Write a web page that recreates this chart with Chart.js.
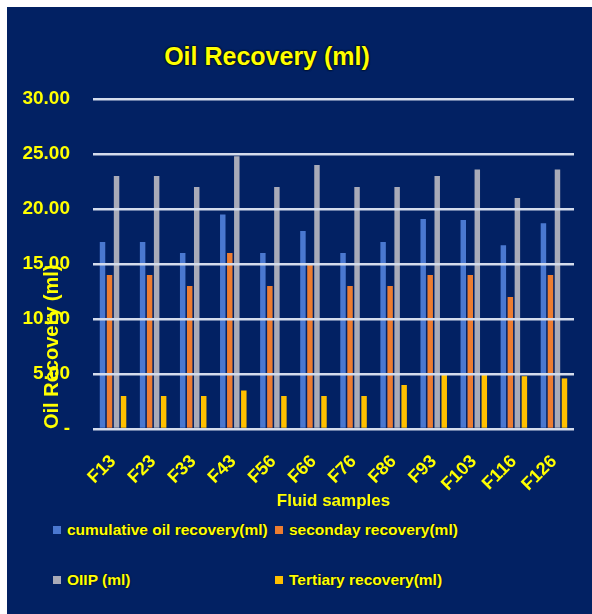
<!DOCTYPE html>
<html>
<head>
<meta charset="utf-8">
<script src="https://cdn.jsdelivr.net/npm/chart.js@4.4.1/dist/chart.umd.min.js"></script>
<style>
  body { margin: 0; background: #fff; }
  #panel { position: absolute; left: 7px; top: 7px; width: 585px; height: 607px; background: #022163; overflow: hidden; }
  #wrap { position: absolute; left: 0; top: 0; width: 585px; height: 510px; }
  #title { position: absolute; left: 0; top: 35px; width: 520px; text-align: center; line-height: 30px;
           font: bold 25px "Liberation Sans", Arial, sans-serif; color: #ffff00; text-shadow: 0 0 2px #000, 0 0 2px #000; }
  #legend { position: absolute; left: 46px; top: 513px; display: grid; grid-template-columns: 222px 222px; row-gap: 30px;
            font: bold 15.5px "Liberation Sans", Arial, sans-serif; color: #ffff00; text-shadow: 0 0 2px #000; }
  #legend div { display: flex; align-items: center; height: 20px; white-space: nowrap; }
  #legend span.box { display: inline-block; width: 8px; height: 8px; margin-right: 6px; }
</style>
</head>
<body>
<div id="panel">
  <div id="title">Oil Recovery (ml)</div>
  <div id="wrap"><canvas id="chart"></canvas></div>
  <div id="legend"></div>
</div>
<script>
// Data
const samples = ['F13', 'F23', 'F33', 'F43', 'F56', 'F66', 'F76', 'F86', 'F93', 'F103', 'F116', 'F126'];
const cumulative = [17, 17, 16, 19.5, 16, 18, 16, 17, 19.1, 19, 16.7, 18.7];
const secondary = [14, 14, 13, 16, 13, 15, 13, 13, 14, 14, 12, 14];
const oiip = [23, 23, 22, 24.8, 22, 24, 22, 22, 23, 23.6, 21, 23.6];
const tertiary = [3, 3, 3, 3.5, 3, 3, 3, 4, 5, 5, 4.8, 4.6];
const yTickLabels = ['-', '5.00', '10.00', '15.00', '20.00', '25.00', '30.00'];

const yellow = '#ffff00';
const fontFamily = '"Liberation Sans", Arial, sans-serif';

const ctx = document.getElementById('chart').getContext('2d');
const chart = new Chart(ctx, {
    type: 'bar',
    data: {
        labels: samples,
        datasets: [
            { label: 'cumulative oil recovery(ml)', data: cumulative, backgroundColor: '#4a78d0' },
            { label: 'seconday recovery(ml)', data: secondary, backgroundColor: '#ed7d31' },
            { label: 'OIIP (ml)', data: oiip, backgroundColor: '#a9abb8' },
            { label: 'Tertiary recovery(ml)', data: tertiary, backgroundColor: '#ffc000' }
        ]
    },
    options: {
        responsive: true,
        maintainAspectRatio: false,
        animation: false,
        categoryPercentage: 0.7,
        barPercentage: 0.78,
        layout: { padding: { top: 92, right: 18, bottom: 0, left: 0 } },
        plugins: {
            legend: { display: false },
            tooltip: { enabled: false }
        },
        scales: {
            x: {
                grid: { display: false, drawTicks: false },
                border: { display: false },
                ticks: {
                    color: yellow,
                    font: { family: fontFamily, size: 18, weight: 'bold' },
                    minRotation: 45,
                    maxRotation: 45,
                    padding: 22,
                    autoSkip: false
                },
                title: {
                    display: true,
                    text: 'Fluid samples',
                    color: yellow,
                    font: { family: fontFamily, size: 17, weight: 'bold' },
                    padding: { top: 0, bottom: 5 }
                },
                afterFit: function(scale) { scale.height = 88; }
            },
            y: {
                min: 0,
                max: 30,
                grid: { color: '#d4dcec', lineWidth: 2.5, drawTicks: false, z: 1 },
                border: { display: false },
                ticks: {
                    stepSize: 5,
                    color: yellow,
                    padding: 23,
                    font: { family: fontFamily, size: 19, weight: 'bold' },
                    callback: function(value, index) { return yTickLabels[index]; }
                },
                title: {
                    display: true,
                    text: 'Oil Recovery (ml)',
                    align: 'start',
                    color: yellow,
                    font: { family: fontFamily, size: 20, weight: 'bold' },
                    padding: { top: 33, bottom: 0 }
                },
                afterFit: function(scale) { scale.width = 86; }
            }
        }
    }
});

// legend in two columns like the original
const legend = document.getElementById('legend');
chart.data.datasets.forEach(function(ds) {
    const item = document.createElement('div');
    item.innerHTML = '<span class="box" style="background:' + ds.backgroundColor + '"></span>' + ds.label;
    legend.appendChild(item);
});
</script>
</body>
</html>
